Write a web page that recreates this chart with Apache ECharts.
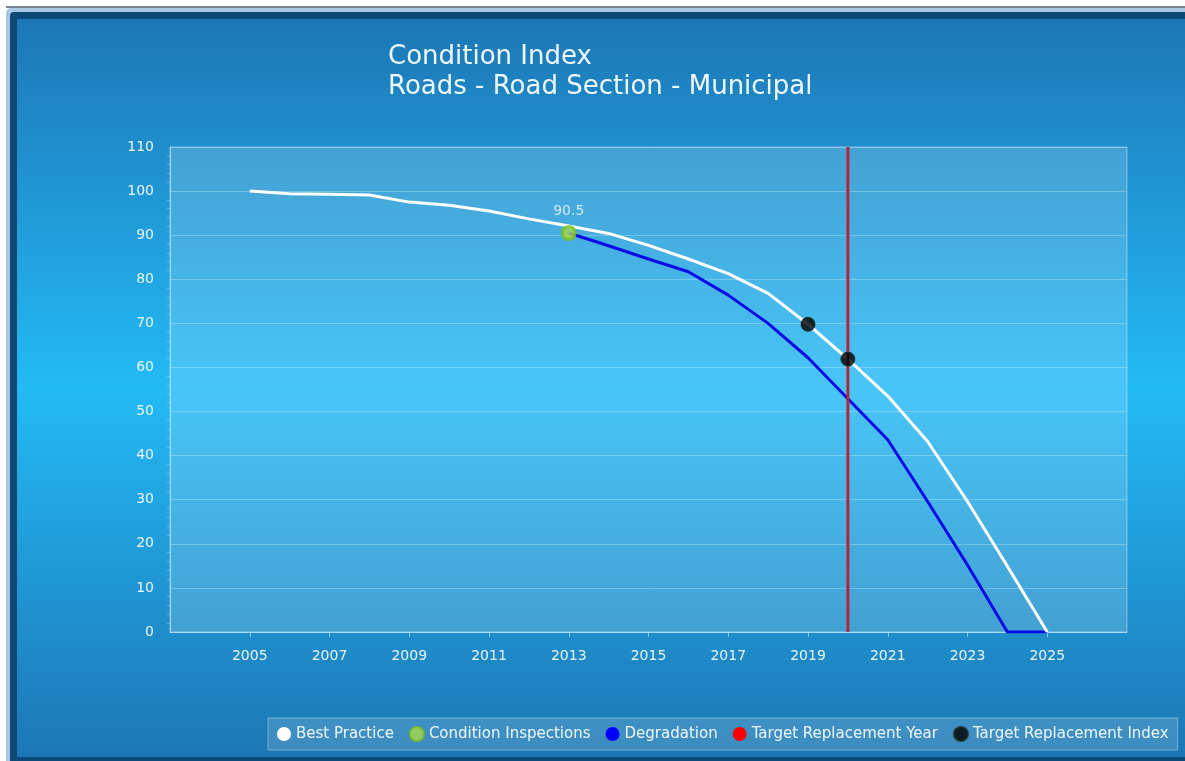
<!DOCTYPE html>
<html>
<head>
<meta charset="utf-8">
<title>Condition Index</title>
<script src="https://cdn.jsdelivr.net/npm/echarts@6/dist/echarts.min.js"></script>
<style>
  html, body { margin: 0; padding: 0; background: #ffffff; overflow: hidden; }
  #chart { width: 1185px; height: 761px; }
</style>
</head>
<body>
<div id="chart"></div>
<script>
// Condition index by year
const years = [2005, 2006, 2007, 2008, 2009, 2010, 2011, 2012, 2013, 2014, 2015,
               2016, 2017, 2018, 2019, 2020, 2021, 2022, 2023, 2024, 2025];
const bestPractice = [100, 99.4, 99.3, 99.1, 97.5, 96.8, 95.5, 93.7, 92.1, 90.4, 87.7,
                      84.6, 81.3, 76.8, 69.8, 61.9, 53.5, 43.2, 29.6, 14.9, 0];

const degradationYears = [2013, 2014, 2015, 2016, 2017, 2018, 2019, 2020, 2021, 2022, 2023, 2024, 2025];
const degradation = [90.5, 87.6, 84.6, 81.7, 76.4, 70.0, 62.2, 52.9, 43.6, 29.6, 15.2, 0, 0];

const inspectionYears = [2013];
const inspectionValues = [90.5];

const targetReplacementYear = 2020;
const targetIndexYears = [2019, 2020];
const targetIndexValues = [69.8, 61.9];

const yTicks = [0, 10, 20, 30, 40, 50, 60, 70, 80, 90, 100, 110];
const titleLines = ['Condition Index', 'Roads - Road Section - Municipal'];
const legendNames = ['Best Practice', 'Condition Inspections', 'Degradation',
                     'Target Replacement Year', 'Target Replacement Index'];

const pair = (xs, ys) => xs.map((x, i) => [x, ys[i]]);

const chart = echarts.init(document.getElementById('chart'), null, { renderer: 'canvas' });

const FONT = '"DejaVu Sans", Verdana, sans-serif';
const LABEL = '#e6f6ff';

const option = {
  animation: false,
  backgroundColor: '#ffffff',
  textStyle: { fontFamily: FONT },
  graphic: [
    // window frame
    { type: 'rect', z: -10, silent: true, shape: { x: 6, y: 6, width: 1200, height: 2 }, style: { fill: '#7c858f' } },
    { type: 'rect', z: -10, silent: true, shape: { x: 6, y: 8, width: 1200, height: 770, r: [5, 0, 0, 0] }, style: { fill: '#a9c6e2' } },
    { type: 'rect', z: -9, silent: true, shape: { x: 10, y: 12, width: 1200, height: 770, r: [4, 0, 0, 0] }, style: { fill: '#0c4878' } },
    {
      type: 'rect', z: -8, silent: true,
      shape: { x: 17, y: 19, width: 1200, height: 738 },
      style: {
        fill: new echarts.graphic.LinearGradient(0, 0, 0, 1, [
          { offset: 0, color: '#1d77b5' },
          { offset: 0.5, color: '#23baf6' },
          { offset: 1, color: '#1c77b4' }
        ])
      }
    }
  ],
  title: {
    text: titleLines.join('\n'),
    left: 383,
    top: 37,
    textStyle: { color: '#eef8ff', fontSize: 26, fontWeight: 'normal', lineHeight: 30, fontFamily: FONT }
  },
  legend: {
    left: 268,
    top: 718,
    padding: [8, 9, 8, 9],
    itemGap: 15,
    itemWidth: 14,
    itemHeight: 14,
    icon: 'circle',
    backgroundColor: 'rgba(255,255,255,0.15)',
    borderColor: 'rgba(255,255,255,0.35)',
    borderWidth: 1,
    textStyle: { color: '#eef8ff', fontSize: 15, fontFamily: FONT },
    data: legendNames.map(n => ({ name: n, icon: 'circle' }))
  },
  grid: {
    left: 170, right: 58, top: 147, bottom: 129,
    show: true,
    backgroundColor: 'rgba(255,255,255,0.17)',
    borderColor: 'rgba(200,235,255,0.5)',
    borderWidth: 1
  },
  xAxis: {
    type: 'value',
    min: 2003, max: 2027, interval: 2,
    axisLine: { show: true, lineStyle: { color: 'rgba(200,235,255,0.6)' } },
    axisTick: { show: true, length: 5, lineStyle: { color: 'rgba(200,235,255,0.6)' } },
    splitLine: { show: false },
    axisLabel: {
      color: LABEL, fontSize: 14, margin: 17, fontFamily: FONT,
      showMinLabel: false, showMaxLabel: false,
      formatter: v => String(v)
    }
  },
  yAxis: {
    type: 'value',
    min: yTicks[0], max: yTicks[yTicks.length - 1], interval: 10,
    axisLine: { show: true, lineStyle: { color: 'rgba(200,235,255,0.6)' } },
    axisTick: { show: false },
    minorTick: { show: true, splitNumber: 5, length: 3, lineStyle: { color: 'rgba(200,235,255,0.35)' } },
    splitLine: { show: true, lineStyle: { color: 'rgba(220,245,255,0.3)', width: 1 } },
    axisLabel: { color: LABEL, fontSize: 14, margin: 16, fontFamily: FONT }
  },
  series: [
    {
      name: 'Best Practice',
      type: 'line',
      data: pair(years, bestPractice),
      showSymbol: false,
      symbol: 'circle',
      itemStyle: { color: '#ffffff' },
      lineStyle: { color: '#ffffff', width: 3 },
      z: 3
    },
    {
      name: 'Degradation',
      type: 'line',
      data: pair(degradationYears, degradation),
      showSymbol: false,
      symbol: 'circle',
      itemStyle: { color: '#0000ff' },
      lineStyle: { color: '#0a0ae8', width: 3 },
      z: 2
    },
    {
      name: 'Target Replacement Year',
      type: 'line',
      data: [[targetReplacementYear, yTicks[0]], [targetReplacementYear, yTicks[yTicks.length - 1]]],
      showSymbol: false,
      symbol: 'circle',
      itemStyle: { color: '#ff0000' },
      lineStyle: { color: '#b0283a', width: 3 },
      z: 4
    },
    {
      name: 'Condition Inspections',
      type: 'scatter',
      data: pair(inspectionYears, inspectionValues),
      symbol: 'circle',
      symbolSize: 13,
      itemStyle: { color: '#a8d84a', borderColor: '#7cc21c', borderWidth: 3 },
      label: {
        show: true, position: 'top', distance: 7,
        color: '#eef8ff', fontSize: 14, fontFamily: FONT,
        formatter: p => String(p.value[1])
      },
      z: 6
    },
    {
      name: 'Target Replacement Index',
      type: 'scatter',
      data: pair(targetIndexYears, targetIndexValues),
      symbol: 'circle',
      symbolSize: 14,
      itemStyle: { color: '#000000', borderColor: '#1a2a1a', borderWidth: 1 },
      z: 7
    }
  ]
};

chart.setOption(option);
</script>
</body>
</html>
